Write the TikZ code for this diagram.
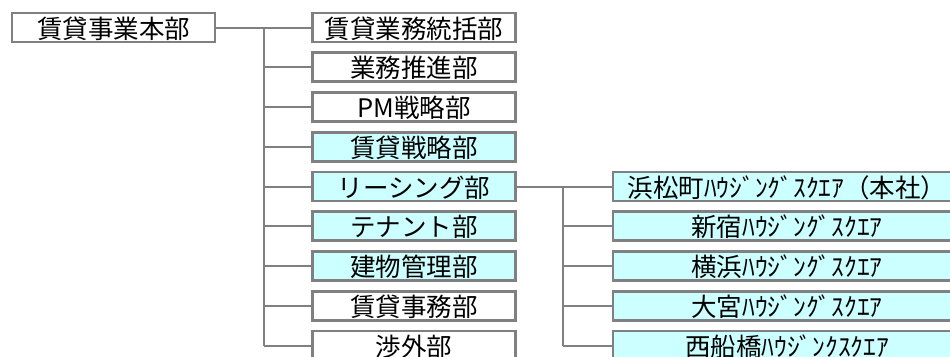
\documentclass[tikz,border=0pt]{standalone}
\usepackage{fontspec}
\setmainfont{Noto Sans CJK JP}
\definecolor{bordergray}{HTML}{808080}
\definecolor{cyanfill}{HTML}{CCFFFF}
\begin{document}
\begin{tikzpicture}[x=1pt,y=-1pt,
  box/.style={draw=bordergray,line width=2.6pt,rectangle,inner sep=0pt,
    minimum height=29pt,font=\fontsize{25.5}{25.5}\selectfont,text height=22pt,text depth=1pt},
  wbox/.style={box,fill=white,minimum width=203pt},
  cbox/.style={box,fill=cyanfill,minimum width=203pt},
  lbox/.style={box,fill=cyanfill,minimum width=348pt},
  conn/.style={draw=bordergray,line width=2pt}]
\useasboundingbox (0,0) rectangle (950,356);
\begin{scope}
\clip (0,0) rectangle (950,356);
\node[wbox] (b0) at (113.5,27.5) {賃貸事業本部};
\node[wbox] (c1) at (414,27.5) {賃貸業務統括部};
\node[wbox] (c2) at (414,67.25) {業務推進部};
\node[wbox] (c3) at (414,107) {PM戦略部};
\node[cbox] (c4) at (414,146.75) {賃貸戦略部};
\node[cbox] (c5) at (414,186.5) {リーシング部};
\node[cbox] (c6) at (414,226.25) {テナント部};
\node[cbox] (c7) at (414,266) {建物管理部};
\node[wbox] (c8) at (414,305.75) {賃貸事務部};
\node[wbox] (c9) at (414,345.5) {渉外部};
\node[lbox] (d1) at (787,186.5) {浜松町ﾊｳｼﾞﾝｸﾞｽｸｴｱ（本社）};
\node[lbox] (d2) at (787,226.25) {新宿ﾊｳｼﾞﾝｸﾞｽｸｴｱ};
\node[lbox] (d3) at (787,266) {横浜ﾊｳｼﾞﾝｸﾞｽｸｴｱ};
\node[lbox] (d4) at (787,305.75) {大宮ﾊｳｼﾞﾝｸﾞｽｸｴｱ};
\node[lbox] (d5) at (787,345.5) {西船橋ﾊｳｼﾞﾝｸｽｸｴｱ};
\coordinate (t1) at (264,0);
\coordinate (t2) at (563,0);
\draw[conn] (b0.east) -- (c1.west);
\draw[conn] (t1 |- c1.west) -- (t1 |- c9.west);
\foreach \n in {c2,c3,c4,c5,c6,c7,c8,c9}{\draw[conn] (t1 |- \n.west) -- (\n.west);}
\draw[conn] (c5.east) -- (d1.west);
\draw[conn] (t2 |- d1.west) -- (t2 |- d5.west);
\foreach \n in {d2,d3,d4,d5}{\draw[conn] (t2 |- \n.west) -- (\n.west);}
\end{scope}
\end{tikzpicture}
\end{document}
